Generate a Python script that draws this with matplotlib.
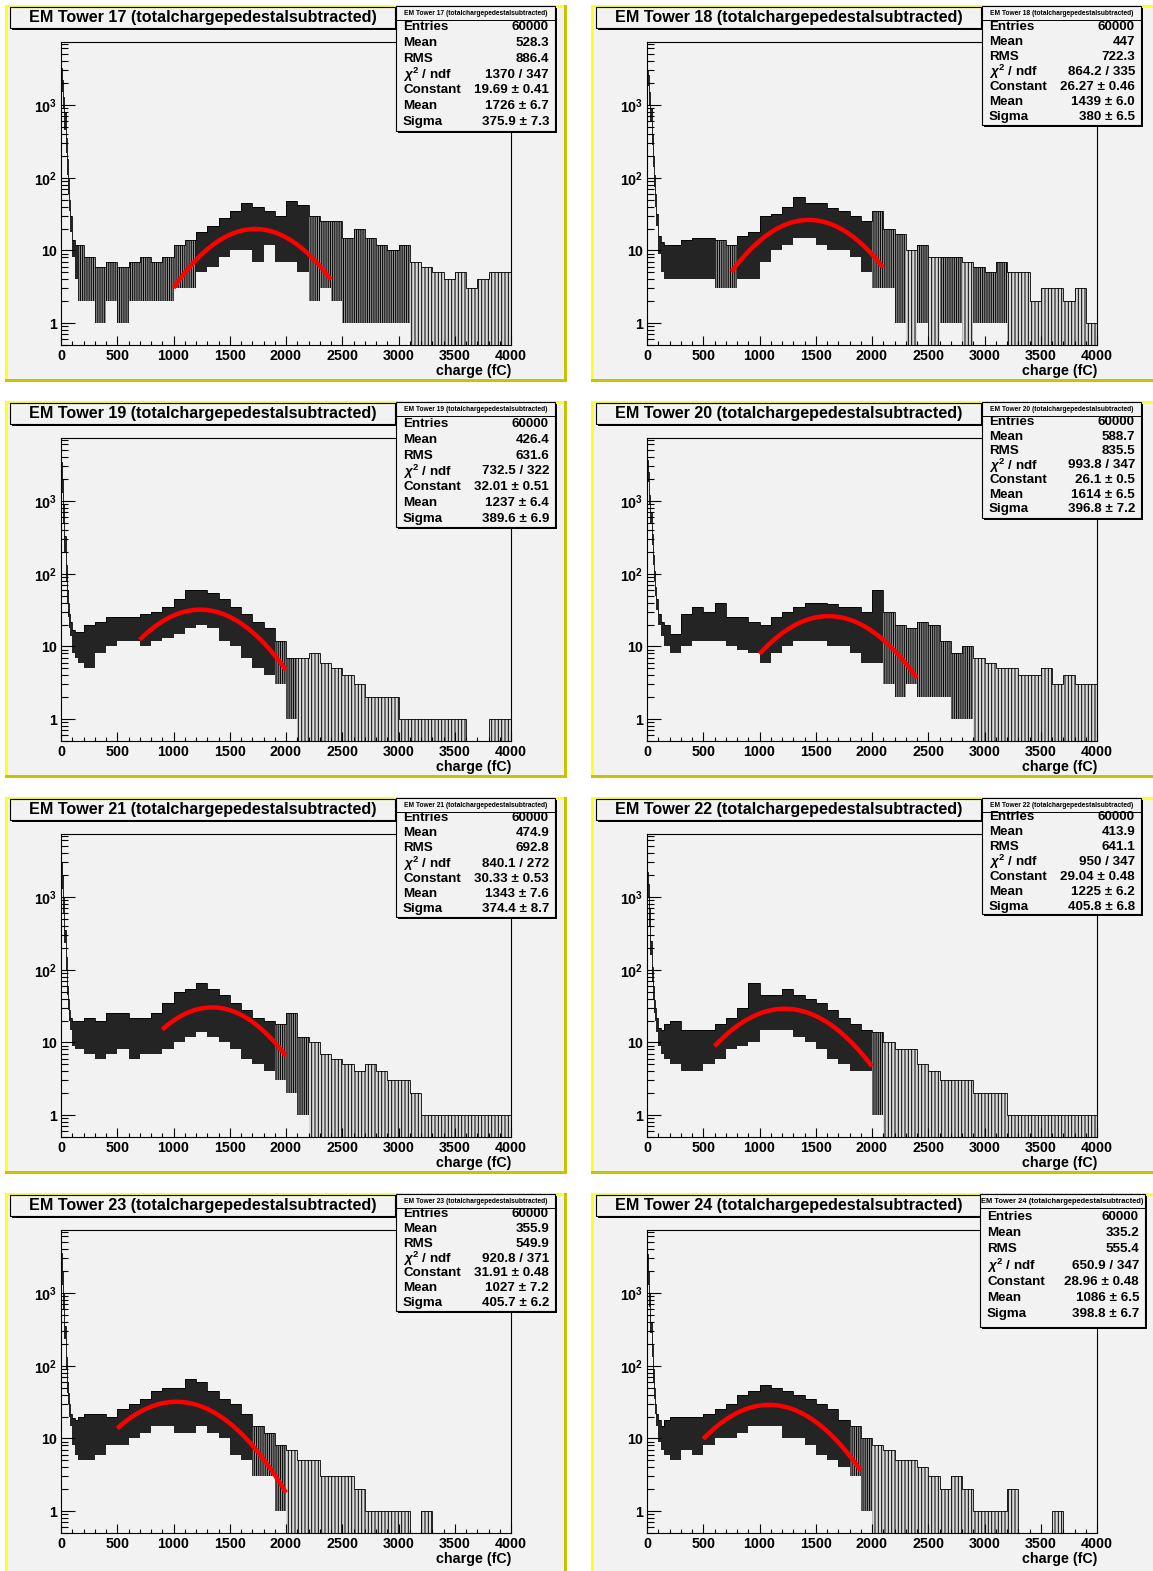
import numpy as np
import matplotlib
matplotlib.use('Agg')
import matplotlib.pyplot as plt
from matplotlib.patches import Rectangle
from matplotlib.ticker import FixedLocator, FixedFormatter, MultipleLocator, LogLocator, NullFormatter

plt.rcParams['font.family'] = ['Liberation Sans', 'DejaVu Sans']
plt.rcParams['font.weight'] = 'bold'
plt.rcParams['mathtext.fontset'] = 'custom'
plt.rcParams['mathtext.rm'] = 'Liberation Sans:bold'
plt.rcParams['mathtext.it'] = 'Liberation Sans:italic:bold'
plt.rcParams['mathtext.bf'] = 'Liberation Sans:bold'
plt.rcParams['hatch.linewidth'] = 0.7

# ---------------- data ----------------
towers = [17, 18, 19, 20, 21, 22, 23, 24]
entries = ['60000'] * 8
stat_mean = ['528.3', '447', '426.4', '588.7', '474.9', '413.9', '355.9', '335.2']
stat_rms = ['886.4', '722.3', '631.6', '835.5', '692.8', '641.1', '549.9', '555.4']
chi2_ndf = ['1370 / 347', '864.2 / 335', '732.5 / 322', '993.8 / 347',
            '840.1 / 272', '950 / 347', '920.8 / 371', '650.9 / 347']
fit_const = [19.69, 26.27, 32.01, 26.1, 30.33, 29.04, 31.91, 28.96]
fit_const_err = ['0.41', '0.46', '0.51', '0.5', '0.53', '0.48', '0.48', '0.48']
fit_mean = [1726, 1439, 1237, 1614, 1343, 1225, 1027, 1086]
fit_mean_err = ['6.7', '6.0', '6.4', '6.5', '7.6', '6.2', '7.2', '6.5']
fit_sigma = [375.9, 380, 389.6, 396.8, 374.4, 405.8, 405.7, 398.8]
fit_sigma_err = ['7.3', '6.5', '6.9', '7.2', '8.7', '6.8', '6.2', '6.7']
fit_lo = [1000, 750, 700, 1000, 900, 600, 500, 500]
fit_hi = [2400, 2100, 2000, 2400, 2000, 2000, 2000, 1900]

# bin edges (fC) of the read-off envelope of each histogram
EDGES = [0, 10, 20, 30, 40, 50, 60, 70, 80, 100, 125, 150] + list(range(200, 4001, 100))

# upper / lower envelope of counts per bin (0 = empty bins present)
hi_17 = [3200, 2200, 1300, 800, 350, 180, 100, 50, 30, 14, 12,
         12,
         8, 6, 7, 6, 7, 8, 7, 8,
         12, 14, 18, 22, 28, 35, 45, 40, 35, 30,
         48, 42, 30, 25, 25, 15, 20, 15, 12, 10,
         12, 7, 6, 5, 4, 5, 3, 4, 5, 5]
lo_17 = [0, 1500, 900, 450, 220, 110, 60, 35, 18, 8, 4,
         2,
         2, 1, 2, 1, 2, 2, 2, 2,
         3, 3, 5, 6, 8, 10, 10, 7, 12, 7,
         7, 5, 2, 3, 2, 1, 1, 1, 1, 1,
         1, 0, 0, 0, 0, 0, 0, 0, 0, 0]
hi_18 = [3000, 2600, 1500, 900, 400, 200, 110, 60, 32, 16, 13,
         12,
         12, 14, 15, 15, 14, 12, 16, 18,
         30, 32, 40, 55, 45, 45, 38, 35, 30, 25,
         35, 20, 17, 10, 12, 8, 8, 8, 7, 6,
         5, 7, 5, 5, 2, 3, 3, 2, 3, 1]
lo_18 = [0, 1800, 1000, 600, 280, 140, 75, 40, 22, 9, 5,
         4,
         4, 4, 4, 4, 3, 3, 4, 4,
         7, 10, 12, 15, 15, 12, 10, 10, 8, 5,
         3, 3, 1, 0, 1, 0, 1, 1, 0, 1,
         1, 1, 0, 0, 0, 0, 0, 0, 0, 0]
hi_19 = [3400, 2000, 900, 330, 130, 60, 40, 28, 22, 17, 16,
         16,
         20, 22, 25, 25, 25, 28, 30, 35,
         45, 60, 60, 55, 45, 35, 28, 22, 18, 12,
         7, 7, 8, 6, 5, 4, 3, 2, 2, 2,
         1, 1, 1, 1, 1, 1, 0, 0, 1, 1]
lo_19 = [0, 1300, 500, 200, 80, 40, 25, 18, 14, 8, 7,
         6,
         5, 8, 10, 12, 12, 10, 12, 13,
         15, 18, 20, 18, 12, 10, 7, 5, 4, 3,
         1, 0, 0, 0, 0, 0, 0, 0, 0, 0,
         0, 0, 0, 0, 0, 0, 0, 0, 0, 0]
hi_20 = [3700, 2500, 1200, 700, 350, 180, 110, 66, 45, 28, 22,
         20,
         15, 28, 35, 30, 40, 25, 25, 22,
         20, 25, 30, 35, 40, 40, 38, 35, 35, 30,
         60, 30, 20, 18, 22, 20, 12, 8, 10, 7,
         6, 5, 5, 4, 4, 5, 3, 4, 3, 3]
lo_20 = [0, 1800, 900, 500, 250, 130, 80, 50, 32, 20, 14,
         10,
         8, 10, 12, 12, 12, 10, 9, 8,
         6, 8, 10, 12, 12, 12, 10, 10, 8, 6,
         6, 3, 2, 3, 2, 2, 2, 1, 1, 0,
         0, 0, 0, 0, 0, 0, 0, 0, 0, 0]
hi_21 = [3000, 2000, 1000, 350, 150, 60, 40, 28, 22, 20, 20,
         20,
         22, 20, 25, 25, 22, 22, 25, 35,
         50, 55, 65, 55, 45, 35, 28, 22, 20, 18,
         25, 12, 10, 7, 6, 5, 4, 5, 4, 3,
         3, 2, 1, 1, 1, 1, 1, 1, 1, 1]
lo_21 = [0, 1300, 600, 230, 100, 45, 28, 20, 15, 9, 8,
         8,
         7, 6, 7, 8, 6, 7, 7, 8,
         10, 12, 14, 12, 10, 8, 6, 5, 4, 3,
         2, 1, 0, 0, 0, 0, 0, 0, 0, 0,
         0, 0, 0, 0, 0, 0, 0, 0, 0, 0]
hi_22 = [2200, 1500, 700, 250, 110, 60, 38, 30, 22, 16, 15,
         18,
         20, 15, 15, 15, 18, 22, 30, 65,
         45, 45, 55, 45, 40, 35, 28, 22, 18, 15,
         14, 10, 8, 8, 5, 4, 3, 3, 3, 2,
         2, 2, 1, 1, 1, 1, 1, 1, 1, 1]
lo_22 = [0, 1000, 400, 160, 70, 40, 25, 20, 14, 9, 7,
         6,
         5, 4, 4, 5, 6, 8, 9, 10,
         15, 15, 15, 12, 10, 8, 6, 5, 4, 4,
         1, 0, 0, 0, 0, 0, 0, 0, 0, 0,
         0, 0, 0, 0, 0, 0, 0, 0, 0, 0]
hi_23 = [3500, 2000, 1000, 350, 130, 60, 42, 30, 22, 19, 18,
         20,
         22, 22, 20, 25, 30, 35, 45, 50,
         50, 65, 60, 45, 35, 30, 22, 15, 12, 8,
         7, 5, 5, 3, 3, 3, 2, 1, 1, 1,
         1, 0, 1, 0, 0, 0, 0, 0, 0, 0]
lo_23 = [0, 1300, 600, 230, 90, 42, 30, 20, 15, 8, 6,
         5,
         5, 6, 8, 8, 10, 12, 15, 15,
         12, 12, 15, 12, 10, 6, 5, 3, 3, 1,
         0, 0, 0, 0, 0, 0, 0, 0, 0, 0,
         0, 0, 0, 0, 0, 0, 0, 0, 0, 0]
hi_24 = [3400, 2000, 1000, 400, 190, 90, 50, 30, 22, 18, 15,
         18,
         20, 20, 20, 22, 25, 30, 40, 45,
         55, 50, 45, 40, 35, 30, 25, 18, 15, 10,
         8, 7, 5, 5, 4, 3, 2, 3, 2, 1,
         1, 1, 2, 0, 0, 0, 1, 0, 0, 0]
lo_24 = [0, 1300, 650, 280, 130, 60, 35, 22, 15, 9, 7,
         6,
         5, 7, 6, 8, 10, 10, 12, 15,
         15, 15, 10, 10, 8, 6, 5, 4, 3, 1,
         0, 0, 0, 0, 0, 0, 0, 0, 0, 0,
         0, 0, 0, 0, 0, 0, 0, 0, 0, 0]
HI = [hi_17, hi_18, hi_19, hi_20, hi_21, hi_22, hi_23, hi_24]
LO = [lo_17, lo_18, lo_19, lo_20, lo_21, lo_22, lo_23, lo_24]

x_ticklabels = ['0', '500', '1000', '1500', '2000', '2500', '3000', '3500', '4000']
y_ticklabels = ['1', '10', r'$10^{2}$', r'$10^{3}$']

# ---------------- layout (pixels) ----------------
W, H, DPI = 1153, 1571, 100
box_bottom = [126, 120, 126, 117, 120, 117, 118, 134]
row_first = [22, 22, 23, 21, 21, 20, 21, 24]
row_last = [117, 112, 118, 108, 112, 110, 110, 121]
box_x = [(391, 550)] * 7 + [(389, 554)]
head_size = [4.8] * 7 + [5.4]

PAD_BG = '#f2f2f2'
FLOOR = 0.3

fig = plt.figure(figsize=(W / DPI, H / DPI), dpi=DPI)
fig.patch.set_facecolor('white')


def rect(X0, Y0, x, y, w, h):
    return [(X0 + x) / W, 1 - (Y0 + y + h) / H, w / W, h / H]


edges = np.array(EDGES, dtype=float)
xs = np.repeat(edges, 2)[1:-1]

for k in range(8):
    row, col = divmod(k, 2)
    X0 = 5 + 586 * col
    Y0 = 5 + 396 * row
    pw = 562 if col == 0 else W - X0 + 8
    ph = 377 if row < 3 else H - Y0 + 8

    bg = fig.add_axes(rect(X0, Y0, 0, 0, pw, ph), zorder=0)
    bg.set_facecolor(PAD_BG)
    bg.set_xticks([]); bg.set_yticks([])
    for s in bg.spines.values():
        s.set_visible(False)

    # ---- plot frame ----
    ax = fig.add_axes(rect(X0, Y0, 56, 37, 450, 303), zorder=1)
    ax.set_facecolor('none')
    ax.set_yscale('log')
    ax.set_xlim(0, 4000)
    ax.set_ylim(0.5, 7360)

    hi = np.array(HI[k], dtype=float)
    lo = np.array(LO[k], dtype=float)
    hi_f = np.where(hi > 0, hi, FLOOR)
    lo_f = np.where(lo > 0, lo, FLOOR)
    his = np.repeat(hi_f, 2)
    los = np.repeat(lo_f, 2)
    dense = np.repeat(lo >= 4, 2)
    medium = np.repeat((lo > 0) & (lo < 4), 2)
    sparse = np.repeat((lo <= 0) & (hi > 0), 2)
    ax.fill_between(xs, los, his, where=dense, color='black', alpha=0.85, lw=0)
    ax.fill_between(xs, los, his, where=medium, facecolor=(0, 0, 0, 0.3),
                    edgecolor='black', hatch='|' * 9, lw=0)
    ax.fill_between(xs, FLOOR, his, where=sparse, facecolor=(0, 0, 0, 0.1),
                    edgecolor='black', hatch='|' * 5, lw=0)
    ax.stairs(hi_f, edges, baseline=None, color='black', lw=0.6)

    # gaussian fit function drawn from the fitted parameters
    fx = np.linspace(fit_lo[k], fit_hi[k], 300)
    fy = fit_const[k] * np.exp(-0.5 * ((fx - fit_mean[k]) / fit_sigma[k]) ** 2)
    ax.plot(fx, fy, color='#ff0000', lw=3.2, solid_capstyle='butt', zorder=5)

    ax.yaxis.set_major_locator(FixedLocator([1, 10, 100, 1000]))
    ax.yaxis.set_major_formatter(FixedFormatter(y_ticklabels))
    ax.yaxis.set_minor_locator(LogLocator(base=10, subs=np.arange(2, 10), numticks=30))
    ax.yaxis.set_minor_formatter(NullFormatter())
    ax.xaxis.set_major_locator(FixedLocator(np.arange(0, 4001, 500)))
    ax.xaxis.set_major_formatter(FixedFormatter(x_ticklabels))
    ax.xaxis.set_minor_locator(MultipleLocator(100))
    ax.tick_params(axis='y', which='major', direction='in', length=10, width=0.8,
                   pad=3, labelsize=10.3)
    ax.tick_params(axis='y', which='minor', direction='in', length=5, width=0.8)
    ax.tick_params(axis='x', which='major', direction='in', length=6.5, width=0.8,
                   pad=3, labelsize=10.3)
    ax.tick_params(axis='x', which='minor', direction='in', length=3.2, width=0.8)
    for lab in ax.get_xticklabels() + ax.get_yticklabels():
        lab.set_fontweight('bold')
    for side in ['left', 'bottom', 'top', 'right']:
        ax.spines[side].set_color('black')
        ax.spines[side].set_linewidth(0.8)

    # ---- overlay: borders, title, stats ----
    ov = fig.add_axes(rect(X0, Y0, 0, 0, pw, ph), zorder=2)
    ov.set_facecolor('none')
    ov.set_xlim(0, pw); ov.set_ylim(ph, 0)
    ov.axis('off')
    bw = 2.6
    ov.add_patch(Rectangle((0, 0), pw, bw, color='#ffff22', lw=0))
    ov.add_patch(Rectangle((0, 0), bw, ph, color='#ffff22', lw=0))
    if row < 3:
        ov.add_patch(Rectangle((0, 377 - bw), pw, bw, color='#c8c400', lw=0))
    if col == 0:
        ov.add_patch(Rectangle((562 - bw, 0), bw, ph, color='#c8c400', lw=0))

    # title box
    ov.add_patch(Rectangle((7, 4), 385, 21, facecolor='black', lw=0))
    ov.add_patch(Rectangle((5, 2), 385, 21, facecolor=PAD_BG, edgecolor='black', lw=0.8))
    ov.text(197.5, 12.8, f'EM Tower {towers[k]} (totalchargepedestalsubtracted)',
            ha='center', va='center', fontsize=11.6, fontweight='bold')

    # stats box
    bx0, bx1 = box_x[k]
    bh = box_bottom[k] - 1
    ov.add_patch(Rectangle((bx0 + 2, 3), bx1 - bx0, bh, facecolor='black', lw=0))
    ov.add_patch(Rectangle((bx0, 1), bx1 - bx0, bh, facecolor=PAD_BG,
                           edgecolor='black', lw=0.8))
    ov.text((bx0 + bx1) / 2, 8.5, f'EM Tower {towers[k]} (totalchargepedestalsubtracted)',
            ha='center', va='center', fontsize=head_size[k], fontweight='bold')
    ov.plot([bx0, bx1], [14.5, 14.5], color='black', lw=0.7)
    labels = ['Entries', 'Mean', 'RMS', r'$\chi^{2}$ / ndf', 'Constant', 'Mean', 'Sigma']
    values = [entries[k], stat_mean[k], stat_rms[k], chi2_ndf[k],
              f'{fit_const[k]:g} \u00b1 {fit_const_err[k]}',
              f'{fit_mean[k]:g} \u00b1 {fit_mean_err[k]}',
              f'{fit_sigma[k]:g} \u00b1 {fit_sigma_err[k]}']
    ys = np.linspace(row_first[k], row_last[k], 7)
    for lab, val, yy in zip(labels, values, ys):
        ov.text(bx0 + 7, yy, lab, ha='left', va='center', fontsize=9.6, fontweight='bold')
        ov.text(bx1 - 6, yy, val, ha='right', va='center', fontsize=9.6, fontweight='bold')

    ov.text(506, 365.5, 'charge (fC)', ha='right', va='center', fontsize=10.3,
            fontweight='bold')

fig.savefig('out.png', dpi=DPI, facecolor='white')
